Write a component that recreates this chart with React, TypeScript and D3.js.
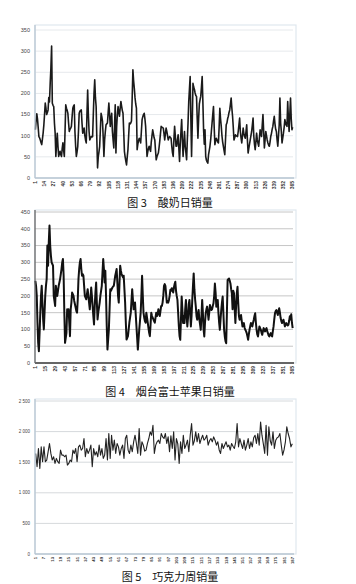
import React from "react";
import * as d3 from "d3";

// ---------- DATA ----------
const yogurtSales: number[] = [
  114,135,152,140,120,98,95,90,84,79,
  92,106,125,150,177,165,150,155,161,190,
  180,224,260,312,177,172,169,130,106,51,
  80,106,75,51,58,63,55,51,70,83,
  65,51,110,173,165,160,153,130,110,115,
  118,122,145,165,170,173,110,75,51,62,
  75,110,153,158,160,161,130,106,112,118,
  100,90,83,150,208,150,110,90,94,98,
  97,98,150,200,232,190,169,90,24,50,
  62,75,115,153,145,134,95,51,90,110,
  126,128,130,155,177,150,122,140,153,110,
  90,71,120,173,59,120,150,169,155,146,
  165,181,170,160,153,110,63,50,40,31,
  50,67,100,130,128,130,135,190,256,230,
  212,190,175,165,67,80,88,94,90,83,
  110,138,145,150,153,140,122,85,51,62,
  70,75,68,63,85,100,114,105,95,90,
  65,43,50,55,59,72,87,105,122,120,
  119,118,105,90,105,118,110,100,90,95,
  98,96,94,75,60,51,90,122,100,75,
  75,90,102,70,39,80,110,138,90,51,
  80,110,75,60,43,90,130,180,210,240,
  140,51,130,224,215,210,201,195,193,140,
  94,140,175,185,193,215,240,180,114,80,
  114,51,42,38,35,55,65,75,90,110,
  130,150,169,120,79,88,94,90,85,83,
  120,165,140,122,100,85,75,65,55,90,
  126,130,140,146,155,161,175,189,165,146,
  120,90,95,102,100,99,98,110,125,142,
  110,95,83,100,118,105,98,94,110,126,
  90,59,70,80,90,100,110,125,142,100,
  80,67,85,106,90,82,75,95,114,105,
  98,125,150,110,71,90,110,100,90,83,
  78,75,85,98,105,115,122,135,146,128,
  115,110,90,75,100,126,189,130,110,83,
  95,106,120,138,130,125,122,181,140,110,
  150,189,140,114,120,
];

const appleSales: number[] = [
  245,230,200,120,60,35,90,150,200,230,
  180,130,100,150,200,230,250,350,290,360,
  410,350,320,300,295,290,200,185,170,230,
  215,200,215,230,240,250,265,280,300,310,
  260,150,60,75,90,160,150,160,120,80,
  160,180,210,205,200,185,175,165,155,150,
  190,250,280,300,310,280,260,265,260,230,
  200,195,190,205,220,200,180,160,190,225,
  200,170,140,115,170,210,240,180,130,150,
  165,180,200,215,230,270,310,280,240,275,
  200,110,40,70,100,160,220,215,220,225,
  228,230,245,260,270,280,240,200,180,235,
  290,275,265,260,255,260,220,180,120,70,
  75,80,100,120,135,150,185,220,190,160,
  170,180,145,110,75,40,70,100,125,150,
  200,260,200,150,135,125,120,150,135,120,
  105,90,80,115,150,140,135,130,125,120,
  135,150,140,145,160,150,140,155,170,170,
  180,200,230,235,230,205,180,185,180,188,
  200,218,215,223,220,210,225,235,242,215,
  200,188,150,110,80,69,130,198,160,119,
  140,119,160,188,140,109,135,175,188,150,
  109,140,188,230,267,220,190,168,140,129,
  145,158,130,115,99,140,188,150,100,79,
  120,148,160,168,150,129,150,173,165,158,
  160,170,178,200,237,210,168,175,188,150,
  120,99,130,158,180,198,150,100,79,65,
  59,150,247,250,252,245,237,220,208,160,
  215,208,160,119,170,208,227,180,140,129,
  135,143,125,109,115,119,105,99,95,89,
  80,69,85,99,110,119,112,109,120,129,
  140,148,120,99,85,79,95,109,104,99,
  90,84,95,104,98,94,100,104,95,89,
  82,79,85,89,82,79,95,109,130,148,
  155,158,150,143,155,163,150,134,125,119,
  124,129,120,109,115,119,114,112,114,125,
  139,130,145,120,104,
];

const chocolateSales: number[] = [
  1643,1426,1724,1399,1751,1508,1751,1508,1535,1670,
  1806,1643,1535,1589,1480,1562,1508,1480,1697,1616,
  1616,1589,1616,1453,1480,1535,1508,1697,1643,1724,
  1508,1751,1779,1697,1724,1887,1589,1724,1643,1697,
  1779,1426,1724,1616,1670,1589,1779,1616,1724,1562,
  1616,1887,1535,1969,1562,1941,1697,1860,1643,1806,
  1751,1616,1724,1779,1562,1887,1941,1697,1643,1779,
  1670,1833,1941,1806,1643,2050,1616,1833,1779,1680,
  1697,1806,1887,1996,1941,2104,1643,1779,1833,1860,
  1806,1969,1914,1887,1969,1806,1914,1670,1930,1724,
  1996,1535,1887,1800,1480,1833,1643,1941,1724,1780,
  1860,1670,1941,2131,1779,1850,1996,1833,1969,1806,
  1880,1941,1860,1887,1941,1779,1850,1887,1833,1914,
  1860,1779,1833,1700,1643,1806,1724,1780,1833,1751,
  1779,1697,1806,1760,1724,1833,2131,1751,1887,1800,
  1724,1860,1697,1780,1887,1724,1833,1751,1900,1941,
  1806,1969,1779,2158,1941,1800,1643,2104,1616,2077,
  1850,1779,1996,1724,1860,1900,1914,1969,1779,1616,
  1700,1833,2077,1969,1887,1751,1800,
];

const yogurtYTicks = [0, 50, 100, 150, 200, 250, 300, 350];
const appleYTicks = [0, 50, 100, 150, 200, 250, 300, 350, 400, 450];
const chocolateYTicks = [0, 500, 1000, 1500, 2000, 2500];
const chocolateYTickLabels = ["0", "500", "1 000", "1 500", "2 000", "2 500"];

const yogurtXTickLabels = d3.range(1, 366, 13);
const appleXTickLabels = d3.range(1, 366, 14);
const chocolateXTickLabels = d3.range(1, 188, 6);

const captions = ["图 3　酸奶日销量", "图 4　烟台富士苹果日销量", "图 5　巧克力周销量"];

// ---------- COMPONENT ----------
type ChartProps = {
  values: number[];
  yTicks: number[];
  yTickLabels: string[];
  xTickLabels: number[];
  frameTop: number;
  top: number;
  bottom: number;
  caption: string;
  captionY: number;
  lineWidth: number;
  lineColor: string;
  gridColor: string;
  axisColor: string;
  axisWidth: number;
  yFont: number;
  xFont: number;
};

const LEFT = 35;
const RIGHT = 293;
const FRAME_RIGHT = 296;

function LineChart(p: ChartProps) {
  const cats = d3.range(1, p.values.length + 1);
  const x = d3.scaleBand<number>().domain(cats).range([LEFT, RIGHT]);
  const cx = (c: number) => (x(c) as number) + x.bandwidth() / 2;
  const yMax = p.yTicks[p.yTicks.length - 1];
  const y = d3.scaleLinear().domain([0, yMax]).range([p.bottom, p.top]);
  const line = d3
    .line<number>()
    .x((_, i) => cx(cats[i]))
    .y((v) => y(v));
  const labelSet = new Set(p.xTickLabels);
  return (
    <g>
      <rect
        x={LEFT}
        y={p.frameTop}
        width={FRAME_RIGHT - LEFT}
        height={p.bottom - p.frameTop}
        fill="none"
        stroke="#dfe8ef"
        strokeWidth={1.2}
      />
      {p.yTicks.map((t) =>
        t === 0 ? null : (
          <line key={t} x1={LEFT} x2={RIGHT} y1={y(t)} y2={y(t)} stroke={p.gridColor} strokeWidth={1} />
        )
      )}
      {p.yTicks.map((t, i) => (
        <text
          key={"yl" + t}
          x={30}
          y={y(t)}
          dy="0.35em"
          textAnchor="end"
          fontSize={p.yFont}
          fill="#444"
          fontFamily="Liberation Sans, Arial, sans-serif"
        >
          {p.yTickLabels[i]}
        </text>
      ))}
      <path d={line(p.values) || ""} fill="none" stroke={p.lineColor} strokeWidth={p.lineWidth} strokeLinejoin="round" />
      <line x1={LEFT} x2={LEFT} y1={p.frameTop} y2={p.bottom} stroke={p.axisColor} strokeWidth={1.3} />
      <line x1={LEFT} x2={RIGHT + 1} y1={p.bottom} y2={p.bottom} stroke={p.axisColor} strokeWidth={p.axisWidth} />
      {cats
        .filter((c) => labelSet.has(c))
        .map((c) => (
          <text
            key={"xl" + c}
            transform={`translate(${cx(c)},${p.bottom + 3}) rotate(-90)`}
            textAnchor="end"
            dy="0.35em"
            fontSize={p.xFont}
            fill="#333"
            fontWeight="bold"
            fontFamily="Liberation Sans, Arial, sans-serif"
          >
            {c}
          </text>
        ))}
      <text
        x={170}
        y={p.captionY}
        textAnchor="middle"
        fontSize={11}
        fill="#111"
        fontFamily="'Noto Sans CJK SC', sans-serif"
      >
        {p.caption}
      </text>
    </g>
  );
}

export default function App() {
  return (
    <div style={{ position: "absolute", left: 0, top: 0, width: 356, height: 584, background: "#fff" }}>
      <svg width={356} height={584} viewBox="0 0 356 584">
        <rect x={0} y={0} width={356} height={584} fill="#fff" />
        <LineChart
          values={yogurtSales}
          yTicks={yogurtYTicks}
          yTickLabels={yogurtYTicks.map(String)}
          xTickLabels={yogurtXTickLabels}
          frameTop={25}
          top={30}
          bottom={178}
          caption={captions[0]}
          captionY={207}
          lineWidth={1.6}
          lineColor="#1a1a1a"
          gridColor="#e6e9ec"
          axisColor="#b8c6d2"
          axisWidth={1.5}
          yFont={5.5}
          xFont={5}
        />
        <LineChart
          values={appleSales}
          yTicks={appleYTicks}
          yTickLabels={appleYTicks.map(String)}
          xTickLabels={appleXTickLabels}
          frameTop={210}
          top={212}
          bottom={363}
          caption={captions[1]}
          captionY={396}
          lineWidth={2}
          lineColor="#111"
          gridColor="#c6c6c6"
          axisColor="#666"
          axisWidth={2}
          yFont={5.5}
          xFont={5}
        />
        <LineChart
          values={chocolateSales}
          yTicks={chocolateYTicks}
          yTickLabels={chocolateYTickLabels}
          xTickLabels={chocolateXTickLabels}
          frameTop={399}
          top={401}
          bottom={554}
          caption={captions[2]}
          captionY={581}
          lineWidth={1.1}
          lineColor="#222"
          gridColor="#d6d9dc"
          axisColor="#b8c6d2"
          axisWidth={1.3}
          yFont={4.5}
          xFont={4.2}
        />
      </svg>
    </div>
  );
}
